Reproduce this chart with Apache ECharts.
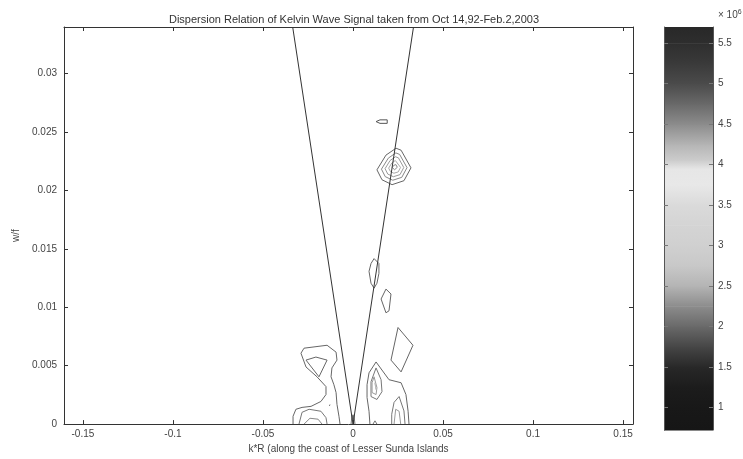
<!DOCTYPE html>
<html><head><meta charset="utf-8">
<script src="https://cdn.jsdelivr.net/npm/echarts@6/dist/echarts.min.js"></script>
<style>html,body{margin:0;padding:0;background:#fff}#c{width:743px;height:459px}</style>
</head><body><div id="c"></div>
<script>
// ---- data ----
const kTicks = [-0.15, -0.1, -0.05, 0, 0.05, 0.1, 0.15];
const wTicks = [0, 0.005, 0.01, 0.015, 0.02, 0.025, 0.03];
const kRange = [-0.1605, 0.1555];
const wRange = [0, 0.034];
const cbTicks = [1, 1.5, 2, 2.5, 3, 3.5, 4, 4.5, 5, 5.5];
const cbRange = [0.72, 5.7];
const cbStops = [0.72,1.0,1.25,1.5,1.75,2.0,2.25,2.5,2.75,3.0,3.25,3.5,3.75,3.95,4.05,4.25,4.5,4.75,5.0,5.25,5.5,5.7];
const cbGray  = [22,24,28,40,70,105,140,180,200,208,212,218,232,230,205,180,140,105,75,58,46,40];

// dispersion lines (w = ±k)
const dispLine = [[-0.0335, 0.034], [0, 0], [0.0336, 0.034]];

// contours, [k, w]
const cSmallTop = [[0.0128,0.0259],[0.015,0.02605],[0.019,0.02605],[0.0200,0.0259],[0.019,0.02575],[0.015,0.02575],[0.0128,0.0259]];
const cHex1 = [[0.0133,0.02177],[0.0183,0.02303],[0.0239,0.02362],[0.0267,0.02345],[0.0322,0.02194],[0.0283,0.02084],[0.0217,0.02050],[0.0161,0.02092],[0.0133,0.02177]];
const cHex2 = [[0.0158,0.02183],[0.0196,0.02277],[0.0238,0.02322],[0.0259,0.02309],[0.0300,0.02196],[0.0271,0.02113],[0.0221,0.02088],[0.0179,0.02119],[0.0158,0.02183]];
const cHex3 = [[0.0178,0.02187],[0.0206,0.02257],[0.0236,0.02289],[0.0252,0.02280],[0.0282,0.02197],[0.0261,0.02136],[0.0224,0.02118],[0.0193,0.02141],[0.0178,0.02187]];
const cHex4 = [[0.0198,0.02192],[0.0216,0.02236],[0.0235,0.02257],[0.0245,0.02251],[0.0264,0.02198],[0.0251,0.02159],[0.0227,0.02148],[0.0208,0.02162],[0.0198,0.02192]];
const cHex5 = [[0.0218,0.02197],[0.0226,0.02215],[0.0234,0.02224],[0.0238,0.02222],[0.0246,0.02199],[0.0241,0.02183],[0.0231,0.02178],[0.0222,0.02184],[0.0218,0.02197]];
const cMidLoop = [[0.0117,0.01417],[0.0144,0.01375],[0.0144,0.01291],[0.0133,0.01206],[0.0117,0.01164],[0.0100,0.01206],[0.0089,0.01308],[0.0100,0.01375],[0.0117,0.01417]];
const cMidDiamond = [[0.0183,0.01156],[0.0211,0.01114],[0.0200,0.00970],[0.0183,0.00953],[0.0156,0.01071],[0.0183,0.01156]];
const cRightDiamond = [[0.0250,0.00827],[0.0333,0.00675],[0.0267,0.00447],[0.0211,0.00548],[0.0250,0.00827]];
const cRightOuter = [[0.0094,0],[0.0089,0.00110],[0.0078,0.00228],[0.0078,0.00337],[0.0089,0.00439],[0.0128,0.00532],[0.0200,0.00380],[0.0267,0.00354],[0.0294,0.00253],[0.0306,0.00110],[0.0311,0]];
const cRightIn1 = [[0.0128,0.00481],[0.0156,0.00380],[0.0161,0.00278],[0.0133,0.00211],[0.0100,0.00236],[0.0100,0.00363],[0.0128,0.00481]];
const cRightIn2 = [[0.0117,0.00405],[0.0133,0.00312],[0.0128,0.00253],[0.0106,0.00270],[0.0106,0.00354],[0.0117,0.00405]];
const cRightIn3 = [[0.0122,0.00354],[0.0128,0.00295],[0.0117,0.00295],[0.0122,0.00354]];
const cRightArch1 = [[0.0215,0],[0.0215,0.00084],[0.0228,0.00186],[0.0256,0.00236],[0.0267,0.00225],[0.0283,0.00113],[0.0289,0]];
const cRightArch2 = [[0.0228,0],[0.0237,0.00127],[0.0256,0.00110],[0.0265,0]];
const cRightBump = [[0.0111,0],[0.0122,0.00028],[0.0133,0]];
const cLeftOuter = [[-0.0072,0],[-0.0078,0.00067],[-0.0089,0.00169],[-0.0094,0.00270],[-0.0106,0.00337],[-0.0122,0.00405],[-0.0117,0.00481],[-0.0089,0.00548],[-0.0094,0.00616],[-0.0144,0.00675],[-0.0272,0.00650],[-0.0289,0.00607],[-0.0261,0.00489],[-0.0200,0.00405],[-0.0150,0.00321],[-0.0150,0.00253],[-0.0178,0.00194],[-0.0233,0.00152],[-0.0283,0.00143],[-0.0317,0.00127],[-0.0333,0.00067],[-0.0333,0]];
const cLeftDiamond = [[-0.0261,0.00548],[-0.0206,0.00574],[-0.0144,0.00548],[-0.0189,0.00405],[-0.0261,0.00548]];
const cLeftArch1 = [[-0.0300,0],[-0.0283,0.00101],[-0.0244,0.00127],[-0.0178,0.00110],[-0.0150,0.00055],[-0.0144,0]];
const cLeftArch2 = [[-0.0272,0],[-0.0239,0.00050],[-0.0194,0.00042],[-0.0172,0]];
const cLeftDot = [[-0.0131,0.00155],[-0.0128,0.00168],[-0.0125,0.00155],[-0.0128,0.00142],[-0.0131,0.00155]];
const cZero = [[-0.0011,0],[-0.0005,0.0008],[0,0.0004],[0.0005,0.0008],[0.0011,0]];

// ---- chart ----
const font = 'Liberation Sans';
const txt = '#444';
function contour(data, color) {
  return {type:'line', xAxisIndex:0, yAxisIndex:0, data:data, showSymbol:false, symbol:'none',
    lineStyle:{width:1, color:color}, silent:true, animation:false, z:3};
}
const gr = g => 'rgb(' + g + ',' + g + ',' + g + ')';
const bands = cbStops.slice(0, -1).map((s, i) => [s, cbStops[i + 1], cbGray[i], cbGray[i + 1]]);

const chart = echarts.init(document.getElementById('c'), null, {renderer:'canvas'});
chart.setOption({
  animation:false,
  backgroundColor:'#fff',
  title:{text:'Dispersion Relation of Kelvin Wave Signal taken from Oct 14,92-Feb.2,2003',
    left:349, top:9, textAlign:'center',
    textStyle:{fontFamily:font, fontSize:11, fontWeight:'normal', color:'#333'}},
  grid:[
    {left:64, top:27, width:569, height:403, show:false},
    {left:664, top:27, width:49, height:403, show:false}
  ],
  xAxis:[
    {type:'value', gridIndex:0, min:kRange[0], max:kRange[1], position:'bottom',
      name:'k*R (along the coast of Lesser Sunda Islands', nameLocation:'middle', nameGap:19,
      nameTextStyle:{fontFamily:font, fontSize:10, color:txt},
      axisLine:{show:true, onZero:false, lineStyle:{color:'#333', width:1}},
      axisTick:{show:true, inside:true, length:4, customValues:kTicks, lineStyle:{color:'#333'}},
      axisLabel:{show:true, customValues:kTicks, fontFamily:font, fontSize:10, color:txt, margin:5,
        formatter:v=>String(v)},
      splitLine:{show:false}},
    {type:'value', gridIndex:0, min:kRange[0], max:kRange[1], position:'top',
      axisLine:{show:true, onZero:false, lineStyle:{color:'#333', width:1}},
      axisTick:{show:true, inside:true, length:4, customValues:kTicks, lineStyle:{color:'#333'}},
      axisLabel:{show:false}, splitLine:{show:false}},
    {type:'value', gridIndex:1, min:0, max:1, show:false}
  ],
  yAxis:[
    {type:'value', gridIndex:0, min:wRange[0], max:wRange[1], position:'left',
      name:'w/f', nameLocation:'middle', nameGap:30, nameRotate:90,
      nameTextStyle:{fontFamily:font, fontSize:10, color:txt, padding:[0,0,0,-20]},
      axisLine:{show:true, onZero:false, lineStyle:{color:'#333', width:1}},
      axisTick:{show:true, inside:true, length:4, customValues:wTicks, lineStyle:{color:'#333'}},
      axisLabel:{show:true, customValues:wTicks, fontFamily:font, fontSize:10, color:txt, margin:7,
        formatter:v=>String(v)},
      splitLine:{show:false}},
    {type:'value', gridIndex:0, min:wRange[0], max:wRange[1], position:'right',
      axisLine:{show:true, onZero:false, lineStyle:{color:'#333', width:1}},
      axisTick:{show:true, inside:true, length:4, customValues:wTicks, lineStyle:{color:'#333'}},
      axisLabel:{show:false}, splitLine:{show:false}},
    {type:'value', gridIndex:1, min:cbRange[0], max:cbRange[1], position:'right',
      axisLine:{show:true, onZero:false, lineStyle:{color:'#555', width:1}},
      axisTick:{show:true, inside:true, length:4, customValues:cbTicks, lineStyle:{color:'#777'}},
      axisLabel:{show:true, customValues:cbTicks, fontFamily:font, fontSize:10, color:txt, margin:5},
      splitLine:{show:false}, z:5},
    {type:'value', gridIndex:1, min:cbRange[0], max:cbRange[1], position:'left',
      axisLine:{show:true, onZero:false, lineStyle:{color:'#555', width:1}},
      axisTick:{show:true, inside:true, length:4, customValues:cbTicks, lineStyle:{color:'#777'}},
      axisLabel:{show:false}, splitLine:{show:false}, z:5}
  ],
  graphic:[
    {type:'text', left:718, top:9, style:{text:'× 10{s|6}', fontFamily:font, fontSize:10, fill:txt,
      rich:{s:{fontSize:7, verticalAlign:'top', padding:[0,0,6,0], fill:txt, fontFamily:font}}}}
  ],
  series:[
    {type:'custom', xAxisIndex:2, yAxisIndex:2, data:bands, silent:true, animation:false, z:1,
      renderItem:function(params, api){
        const p0 = api.coord([0, api.value(0)]);
        const p1 = api.coord([1, api.value(1)]);
        return {type:'rect', shape:{x:p0[0], y:p1[1], width:p1[0]-p0[0], height:p0[1]-p1[1]+0.6},
          style:{fill:new echarts.graphic.LinearGradient(0,1,0,0,[
            {offset:0, color:gr(api.value(2))}, {offset:1, color:gr(api.value(3))}])}};
      }, encode:{x:-1, y:[0,1]}},
    {type:'line', xAxisIndex:0, yAxisIndex:0, data:dispLine, showSymbol:false, symbol:'none',
      lineStyle:{width:1, color:'#333'}, silent:true, animation:false, z:4},
    contour(cSmallTop, '#555'),
    contour(cHex1, '#666'),
    contour(cHex2, '#888'),
    contour(cHex3, '#999'),
    contour(cHex4, '#aaa'),
    contour(cHex5, '#888'),
    contour(cMidLoop, '#666'),
    contour(cMidDiamond, '#666'),
    contour(cRightDiamond, '#666'),
    contour(cRightOuter, '#666'),
    contour(cRightIn1, '#777'),
    contour(cRightIn2, '#999'),
    contour(cRightIn3, '#bbb'),
    contour(cRightArch1, '#777'),
    contour(cRightArch2, '#999'),
    contour(cRightBump, '#777'),
    contour(cLeftOuter, '#666'),
    contour(cLeftDiamond, '#666'),
    contour(cLeftArch1, '#777'),
    contour(cLeftArch2, '#888'),
    contour(cLeftDot, '#777'),
    contour(cZero, '#777')
  ]
});
</script></body></html>
